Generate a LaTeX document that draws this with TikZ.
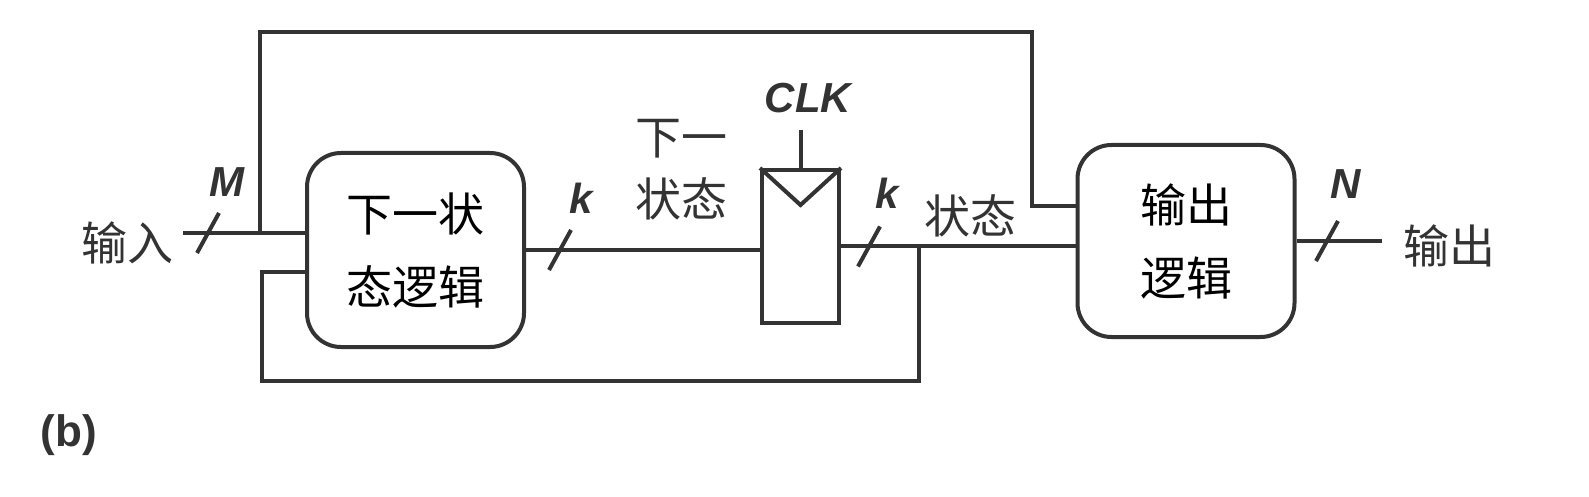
\documentclass[tikz,border=0pt]{standalone}
\usepackage{fontspec}
\setmainfont{Liberation Sans}
\newfontfamily\cjk{Noto Sans CJK SC}
\usepackage{tikz}
\usetikzlibrary{positioning,calc}
\definecolor{wireGray}{HTML}{333333}

\begin{document}
\begin{tikzpicture}[
            x=0.5pt, y=-0.5pt,
            line width=2pt,
            draw=wireGray,
            logic/.style={
                    rectangle,
                    rounded corners=17pt,
                    draw=wireGray,
                    minimum width=108.5pt,
                    minimum height=97pt,
                    inner sep=0pt,
                    align=center,
                    font=\cjk\fontsize{23}{36.5}\selectfont
                },
            flop/.style={
                    rectangle,
                    draw=wireGray,
                    minimum width=38.5pt,
                    minimum height=76.5pt,
                    inner sep=0pt
                },
            cjklbl/.style={
                    inner sep=0pt,
                    text=wireGray,
                    align=center,
                    font=\cjk\fontsize{23}{31}\selectfont
                },
            buslbl/.style={
                    inner sep=0pt,
                    text=wireGray,
                    font=\fontsize{21}{24}\selectfont\bfseries\itshape
                },
            wire/.style={
                    draw=wireGray,
                    line width=2pt,
                    line join=miter
                }
        ]
        \useasboundingbox (0,0) rectangle (1589,497);

        % Blocks
        \node[logic] (nsl) at (415.5,250) {下一状\\态逻辑};
        \node[flop] (ff) at (800.5,246.5) {};
        \node[logic, minimum height=96pt] (ol) at (1186,241) {输出\\逻辑};

        % Labels
        \node[cjklbl] (inLbl) at (127,243) {输入};
        \node[cjklbl] (outLbl) at (1449,246) {输出};
        \node[cjklbl] (nsLbl) at (681,170) {下一\\状态};
        \node[cjklbl] (stLbl) at (970,216) {状态};
        \node[buslbl] (clk) at (808,98) {CLK};
        \node[font=\fontsize{22}{24}\selectfont\bfseries, text=wireGray, inner sep=0pt] (tag) at (69,435) {(b)};

        % Wire corners
        \coordinate (inStart) at (183,233);
        \coordinate (tap) at ($(nsl.west)+(-45,-17)$);
        \coordinate (topR) at (1032,32);
        \coordinate (olIn) at ($(ol.west)+(0,-35)$);
        \coordinate (fbTap) at ($(ff.east)+(78,0)$);
        \coordinate (fbBot) at (262,381);
        \coordinate (nslFb) at ($(nsl.west)+(0,22)$);
        \coordinate (outEnd) at ($(ol.east)+(85,0)$);

        % Bus marks
        \coordinate (busIn) at (208,233);
        \coordinate (busNext) at (560,250);
        \coordinate (busState) at (869,246.5);
        \coordinate (busOut) at (1327,241);

        % Main wires
        \draw[wire] (inStart) -- (inStart -| nsl.west);
        \draw[wire] (nsl.east) -- (nsl.east -| ff.west);
        \draw[wire] (ff.east) -- (ff.east -| ol.west);
        \draw[wire] (ol.east) -- (outEnd);

        % Input to output logic
        \draw[wire] (tap) |- (topR) |- (olIn);

        % State feedback
        \draw[wire] (fbTap) |- (fbBot) |- (nslFb);

        % Clock
        \draw[wire] (ff.north) ++(0,-38) -- (ff.north);
        \draw[wire] (ff.north west) -- ($(ff.north)+(0,37)$) -- (ff.north east);

        \foreach \b in {busIn,busNext,busState,busOut}
            \draw[wire] (\b) ++(-11,20) -- ++(22,-40);

        \node[buslbl] (mLbl) at ($(busIn)+(19,-51)$) {M};
        \node[buslbl] (kLbl) at ($(busNext)+(21,-52)$) {k};
        \node[buslbl] (k2Lbl) at ($(busState)+(18,-53)$) {k};
        \node[buslbl] (nLbl) at ($(busOut)+(19,-57)$) {N};

    \end{tikzpicture}
\end{document}
